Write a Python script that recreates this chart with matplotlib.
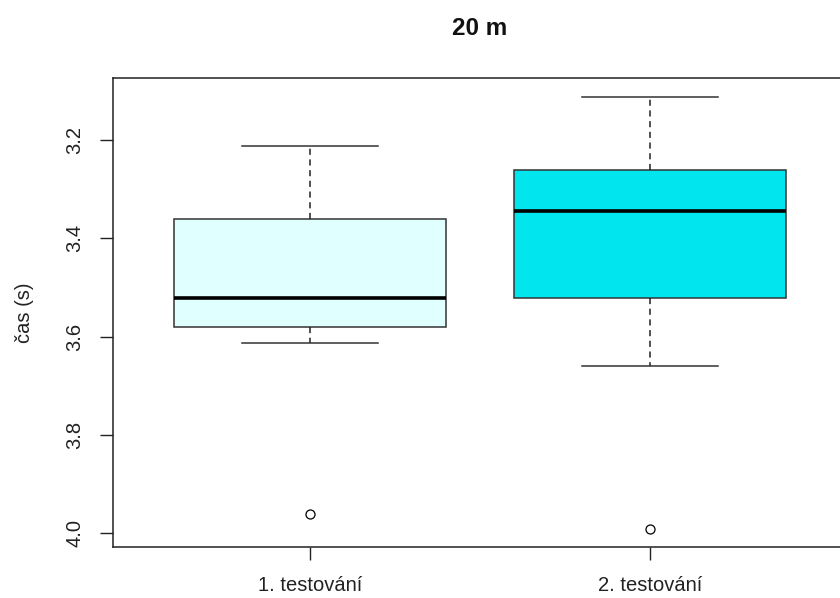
import matplotlib
matplotlib.use("Agg")
import matplotlib.pyplot as plt

# values (y axis is reversed: faster time on top)
groups = ["1. testování", "2. testování"]
q1 = [3.361, 3.260]
medians = [3.522, 3.344]
q3 = [3.581, 3.522]
whisker_lo = [3.212, 3.112]
whisker_hi = [3.612, 3.660]
outliers = [[3.961], [3.990]]
fill_colors = ["#E0FFFF", "#00E5EE"]

plt.rcParams["font.family"] = ["Liberation Sans", "DejaVu Sans"]

stats = []
for i, name in enumerate(groups):
    stats.append({
        "label": name,
        "q1": q1[i], "med": medians[i], "q3": q3[i],
        "whislo": whisker_lo[i], "whishi": whisker_hi[i],
        "fliers": outliers[i],
    })

fig = plt.figure(figsize=(8.4, 5.98), dpi=100)
ax = fig.add_axes([113 / 840, 1 - 546.7 / 598, 734 / 840, (546.7 - 78.3) / 598])

bp = ax.bxp(
    stats, positions=[1, 2], widths=0.8, patch_artist=True,
    boxprops=dict(edgecolor="#333333", linewidth=1.1),
    medianprops=dict(color="black", linewidth=2.6, solid_capstyle="butt"),
    whiskerprops=dict(color="#222222", linewidth=1.1, linestyle=(0, (4, 3))),
    capprops=dict(color="#333333", linewidth=1.1),
    capwidths=0.4,
    flierprops=dict(marker="o", markersize=6.5, markerfacecolor="white",
                    markeredgecolor="black", markeredgewidth=0.9),
)
for patch, c in zip(bp["boxes"], fill_colors):
    patch.set_facecolor(c)

ax.set_xlim(0.42, 2.58)
ax.set_ylim(4.027, 3.0745)
ax.set_yticks([3.2, 3.4, 3.6, 3.8, 4.0])
ax.set_yticklabels(["3.2", "3.4", "3.6", "3.8", "4.0"], rotation=90, va="center")
ax.set_xticks([1, 2])
ax.set_xticklabels(groups)

ax.tick_params(axis="both", labelsize=14.5, length=9.4, width=1.0, colors="#222222")
ax.tick_params(axis="y", pad=11)
ax.tick_params(axis="x", pad=12)
for s in ax.spines.values():
    s.set_linewidth(1.1)
    s.set_color("#222222")

ax.set_ylabel("čas (s)", fontsize=14.5, color="#222222")
ax.yaxis.set_label_coords(-0.108, 0.5)

fig.text(480 / 840, 1 - 35 / 598, "20 m", ha="center", va="baseline",
         fontsize=17.5, fontweight="bold", color="#111111")

fig.savefig("out.png", dpi=100)
